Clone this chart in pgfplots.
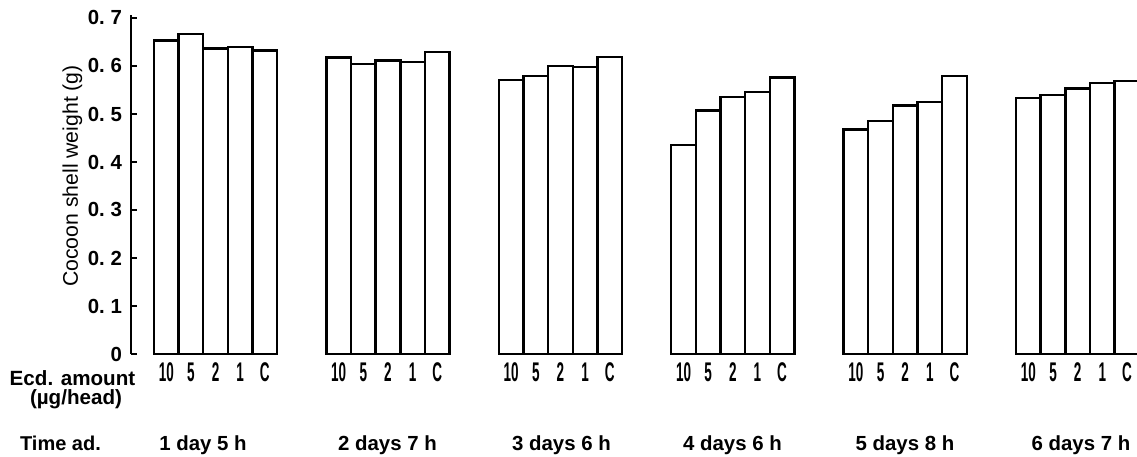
\documentclass[border=0pt]{standalone}
\usepackage{pgfplots}
\pgfplotsset{compat=1.18}
\usepackage{graphicx}
\usepackage{fontspec}
\setmainfont{Liberation Sans}
\newcommand{\cnd}[1]{\scalebox{0.5}[1]{\fontsize{13.5}{13.5}\selectfont\bfseries #1}}
\begin{document}
\begin{tikzpicture}
\useasboundingbox (-65.5pt,-51pt) rectangle (503pt,177pt);
\begin{axis}[
  scale only axis,
  width=503pt, height=169.7pt,
  xmin=-1.434, xmax=39.41, ymin=0, ymax=0.707,
  axis y line=left, axis x line=bottom,
  x axis line style={draw=none},
  y axis line style={-, line width=1pt},
  clip mode=individual,
  tick align=inside,
  major tick length=3pt,
  ytick={0,0.1,0.2,0.3,0.4,0.5,0.6,0.7},
  yticklabels={0,0.\ 1,0.\ 2,0.\ 3,0.\ 4,0.\ 5,0.\ 6,0.\ 7},
  yticklabel style={font=\fontsize{10.2}{10}\selectfont\bfseries, xshift=-1pt},
  ytick style={line width=0.9pt, black},
  xtick={0,1,2,3,4,7,8,9,10,11,14,15,16,17,18,21,22,23,24,25,28,29,30,31,32,35,36,37,38,39},
  xticklabels={\cnd{10},\cnd{5},\cnd{2},\cnd{1},\cnd{C},\cnd{10},\cnd{5},\cnd{2},\cnd{1},\cnd{C},\cnd{10},\cnd{5},\cnd{2},\cnd{1},\cnd{C},\cnd{10},\cnd{5},\cnd{2},\cnd{1},\cnd{C},\cnd{10},\cnd{5},\cnd{2},\cnd{1},\cnd{C},\cnd{10},\cnd{5},\cnd{2},\cnd{1},\cnd{C}},
  xticklabel style={anchor=base, yshift=-13.8pt},
  xtick style={draw=none},
]
\addplot[ybar, bar width=1, draw=black, fill=white, line width=1.2pt] coordinates {
  (0,0.653) (1,0.667) (2,0.636) (3,0.640) (4,0.632)
  (7,0.618) (8,0.604) (9,0.611) (10,0.608) (11,0.629)
  (14,0.571) (15,0.579) (16,0.600) (17,0.598) (18,0.619)
  (21,0.435) (22,0.507) (23,0.535) (24,0.546) (25,0.576)
  (28,0.468) (29,0.485) (30,0.518) (31,0.525) (32,0.579)
  (35,0.533) (36,0.540) (37,0.553) (38,0.565) (39,0.569)
};
\end{axis}
\node[rotate=90, font=\fontsize{10.6}{11}\selectfont] at (-29.25pt,89pt) {Cocoon shell weight (g)};
\node[anchor=base, inner sep=0pt, font=\fontsize{10.3}{11}\selectfont\bfseries] at (-29.25pt,-15.5pt) {Ecd. amount};
\node[anchor=base, inner sep=0pt, font=\fontsize{10.3}{11}\selectfont\bfseries] at (-27.5pt,-25pt) {(µg/head)};
\node[anchor=base, font=\fontsize{10}{11}\selectfont\bfseries] at (-35.25pt,-48.3pt) {Time ad.};
\begin{scope}[every node/.style={anchor=base, font=\fontsize{10.2}{11}\selectfont\bfseries}]
\node at (36pt,-48.3pt) {1 day 5 h};
\node at (128.25pt,-48.3pt) {2 days 7 h};
\node at (215.25pt,-48.3pt) {3 days 6 h};
\node at (300.75pt,-48.3pt) {4 days 6 h};
\node at (387pt,-48.3pt) {5 days 8 h};
\node at (475pt,-48.3pt) {6 days 7 h};
\end{scope}
\end{tikzpicture}
\end{document}
